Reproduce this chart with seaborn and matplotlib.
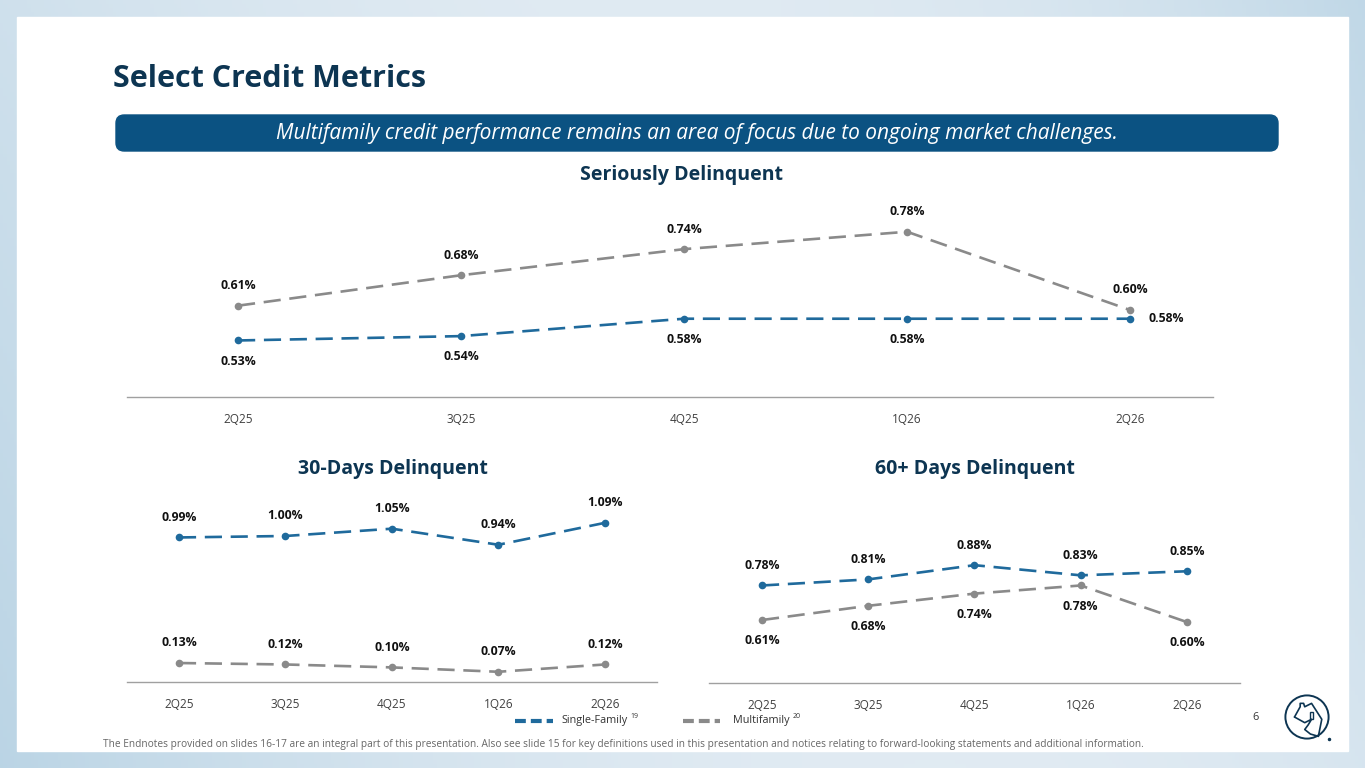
import numpy as np
import pandas as pd
import matplotlib
matplotlib.use("Agg")
import matplotlib.pyplot as plt
from matplotlib.patches import FancyBboxPatch, Rectangle, Circle
from matplotlib.lines import Line2D
import seaborn as sns

quarters = ["2Q25", "3Q25", "4Q25", "1Q26", "2Q26"]
sdq_sf = [0.53, 0.54, 0.58, 0.58, 0.58]
sdq_mf = [0.61, 0.68, 0.74, 0.78, 0.60]
d30_sf = [0.99, 1.00, 1.05, 0.94, 1.09]
d30_mf = [0.13, 0.12, 0.10, 0.07, 0.12]
d60_sf = [0.78, 0.81, 0.88, 0.83, 0.85]
d60_mf = [0.61, 0.68, 0.74, 0.78, 0.60]

SF_COLOR = "#1f6a9c"
MF_COLOR = "#8a8a8a"
NAVY = "#0d3552"
W, H = 1365, 768

sns.set_theme(style="white")
plt.rcParams["font.family"] = ["Open Sans", "DejaVu Sans"]

fig = plt.figure(figsize=(W / 100, H / 100), dpi=100)


def px_axes(left, top, right, bottom):
    return fig.add_axes([left / W, 1 - bottom / H, (right - left) / W, (bottom - top) / H])


# background gradient: darker blue at left and right edges, lighter in the middle
bg = fig.add_axes([0, 0, 1, 1], zorder=-10)
gx = np.linspace(0, 1, 400)
gy = np.linspace(0, 1, 200)
GX, GY = np.meshgrid(gx, gy)
t = np.clip(0.9 * (1 - GX) ** 2 * (0.6 + 0.4 * GY) + 0.8 * GX ** 3 * (1 - 0.5 * GY), 0, 1)
c0 = np.array([0.93, 0.95, 0.97])
c1 = np.array([0.71, 0.82, 0.89])
img = c0[None, None, :] * (1 - t[..., None]) + c1[None, None, :] * t[..., None]
bg.imshow(img, aspect="auto", extent=[0, 1, 0, 1])
bg.add_patch(Rectangle((17 / W, 1 - 751 / H), (1348 - 17) / W, (751 - 17) / H, color="white"))
bg.set_xlim(0, 1)
bg.set_ylim(0, 1)
bg.axis("off")

# title and banner
fig.text(113 / W, 1 - 79 / H, "Select Credit Metrics", fontsize=22, fontweight="bold",
         color=NAVY, va="center", ha="left")
bg.add_patch(FancyBboxPatch((116 / W, 1 - 151 / H), (1278 - 116) / W, 36 / H,
                            boxstyle="round,pad=0,rounding_size=0.006", color="#0b5282",
                            mutation_aspect=W / H))
fig.text(697 / W, 1 - 133 / H,
         "Multifamily credit performance remains an area of focus due to ongoing market challenges.",
         fontsize=15, style="italic", color="white", ha="center", va="center")


def draw_chart(ax, sf, mf, sf_pos, mf_pos, xlim, ylim, title, title_xy):
    df = pd.DataFrame({"q": quarters * 2, "v": sf + mf,
                       "s": ["Single-Family"] * 5 + ["Multifamily"] * 5})
    for name, color in [("Multifamily", MF_COLOR), ("Single-Family", SF_COLOR)]:
        sub = df[df["s"] == name]
        sns.lineplot(data=sub, x="q", y="v", ax=ax, color=color, marker="o", markersize=5.5,
                     markeredgewidth=0, linewidth=1.9, linestyle=(0, (6.5, 3.3)), sort=False)
    for vals, pos in [(sf, sf_pos), (mf, mf_pos)]:
        for i, v in enumerate(vals):
            p = pos[i]
            off = {"a": (0, 14.5), "b": (0, -15), "r": (26, 0)}[p]
            ax.annotate(f"{v:.2f}%", (i, v), xytext=off, textcoords="offset points",
                        ha="center", va="center", fontsize=8.8, fontweight="bold", color="#111111")
    ax.set_xlim(*xlim)
    ax.set_ylim(*ylim)
    ax.set_xlabel("")
    ax.set_ylabel("")
    ax.set_yticks([])
    ax.tick_params(axis="x", length=0, pad=11.5, labelsize=8.5, labelcolor="#404040")
    for s in ["top", "right", "left"]:
        ax.spines[s].set_visible(False)
    ax.spines["bottom"].set_color("#a0a0a0")
    ax.spines["bottom"].set_linewidth(1)
    ax.patch.set_alpha(0)
    fig.text(title_xy[0] / W, 1 - title_xy[1] / H, title, fontsize=14, fontweight="bold",
             color=NAVY, ha="center", va="center")


ax1 = px_axes(127, 200, 1213, 397)
draw_chart(ax1, sdq_sf, sdq_mf, ["b", "b", "b", "b", "r"], ["a"] * 5,
           (-0.498, 4.372), (0.40, 0.853), "Seriously Delinquent", (682, 175))

ax2 = px_axes(127, 490, 657, 682)
draw_chart(ax2, d30_sf, d30_mf, ["a"] * 5, ["a"] * 5,
           (-0.488, 4.49), (0.0, 1.315), "30-Days Delinquent", (393, 469))

ax3 = px_axes(709, 490, 1240, 683)
draw_chart(ax3, d60_sf, d60_mf, ["a"] * 5, ["b"] * 5,
           (-0.499, 4.5), (0.30, 1.25), "60+ Days Delinquent", (975, 469))

# legend
for x0, x1, color, label, sup, tx in [(515, 553, SF_COLOR, "Single-Family", "19", 561),
                                      (683, 720, MF_COLOR, "Multifamily", "20", 733)]:
    fig.add_artist(Line2D([x0 / W, x1 / W], [1 - 721 / H] * 2, color=color, linewidth=3,
                          linestyle=(0, (2.6, 1.2))))
    txt = fig.text(tx / W, 1 - 721 / H, label, fontsize=7.8, color="#333333", va="center")
    fig.canvas.draw()
    bb = txt.get_window_extent()
    fig.text((bb.x1 + 3) / W, 1 - 717 / H, sup, fontsize=5, color="#333333", va="center")

fig.text(103 / W, 1 - 745 / H,
         "The Endnotes provided on slides 16-17 are an integral part of this presentation. Also see slide 15 "
         "for key definitions used in this presentation and notices relating to forward-looking statements "
         "and additional information.", fontsize=7.3, color="#666666", va="center")
fig.text(1252 / W, 1 - 718 / H, "6", fontsize=7.8, color="#333333", va="center")

# logo
la = fig.add_axes([1282 / W, 1 - 742 / H, 50 / W, 50 / H])
la.set_xlim(-1.1, 1.1)
la.set_ylim(-1.1, 1.1)
la.set_aspect("equal")
la.axis("off")
la.add_patch(Circle((0, 0), 0.95, fill=False, lw=1.4, color=NAVY))
la.plot([-0.55, -0.3, -0.3, -0.15, -0.1, 0.2, 0.65, 0.5], [0.0, 0.45, 0.6, 0.6, 0.45, 0.6, -0.1, -0.85],
        color=NAVY, lw=1.2)
la.plot([-0.55, -0.1, 0.2, 0.05, -0.1, 0.15, 0.5], [0.0, -0.25, -0.1, -0.35, -0.55, -0.75, -0.85],
        color=NAVY, lw=1.2)
la.add_patch(Rectangle((0.15, -0.1), 0.12, 0.3, fill=False, lw=1, color=NAVY))
la.plot([0.98], [-0.98], "o", color=NAVY, markersize=1.5)

fig.savefig("out.png", dpi=100)
